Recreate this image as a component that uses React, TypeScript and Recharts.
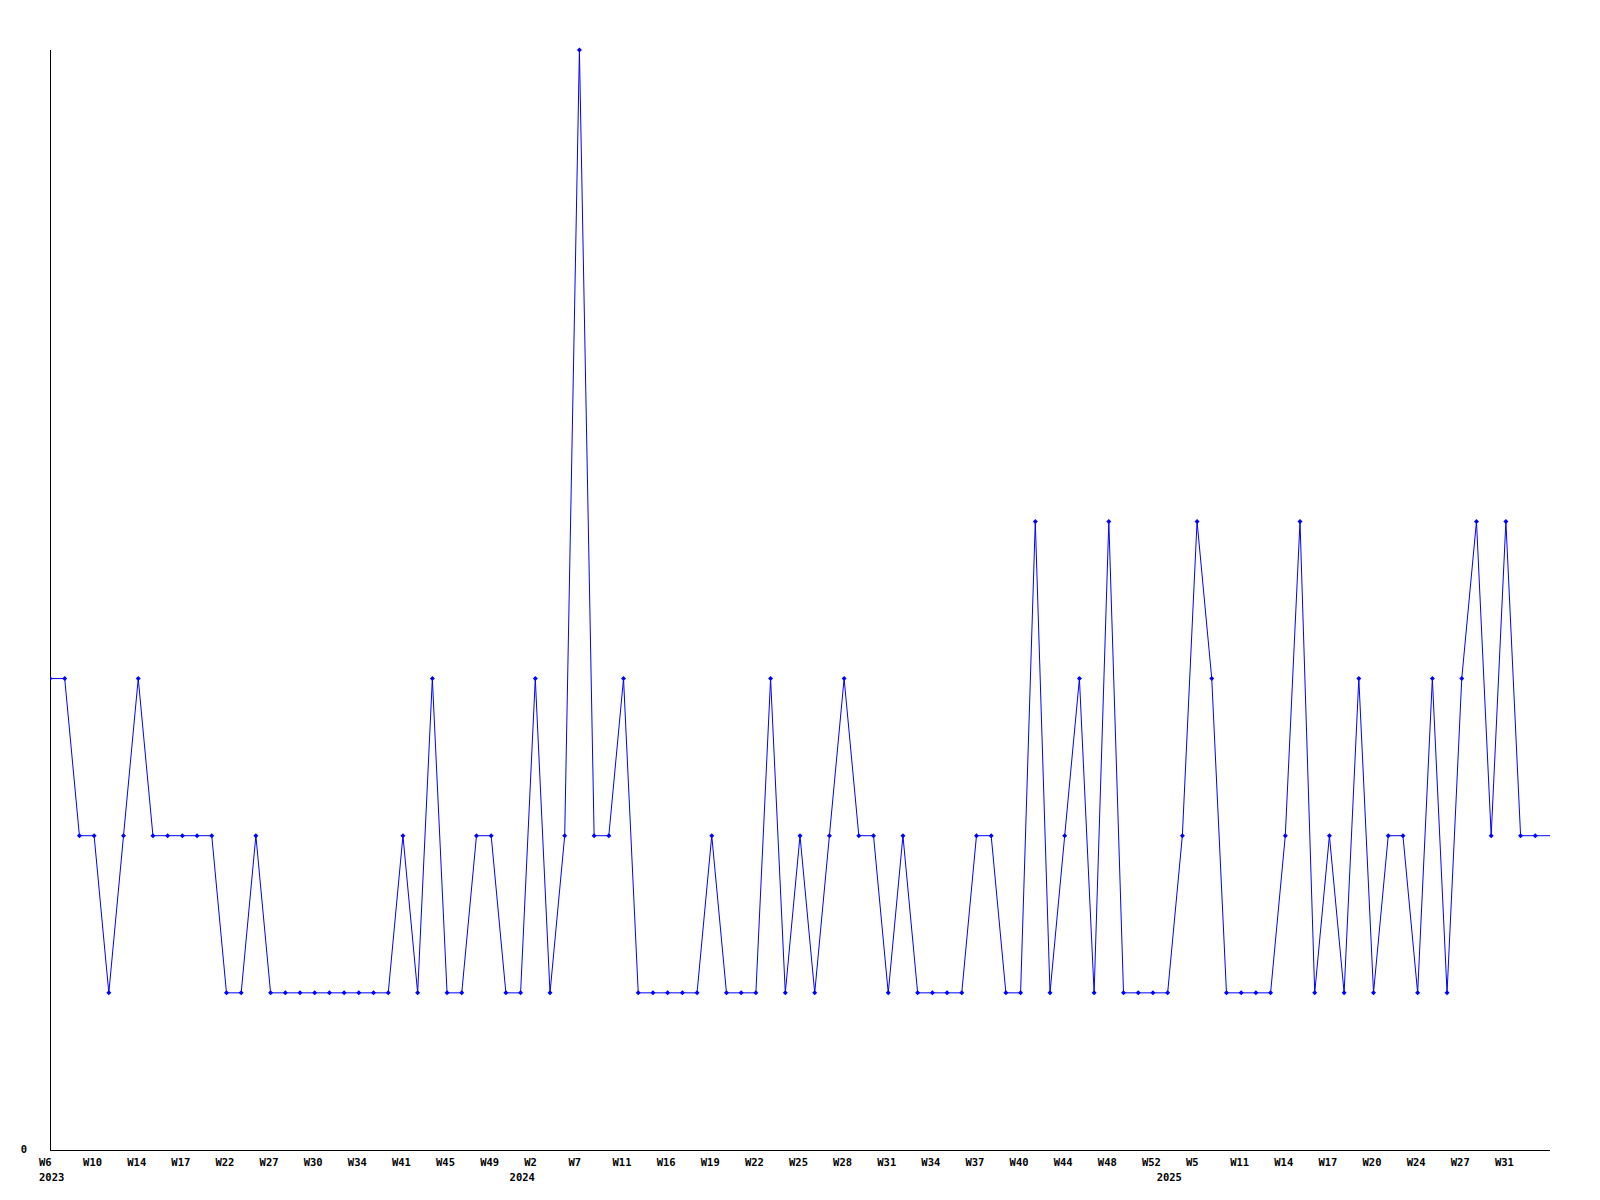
import React from 'react';
import { LineChart, Line, XAxis, YAxis } from 'recharts';

// one value per data row (weekly), left to right
const values: number[] = [
  3, 3, 2, 2, 1, 2, 3, 2, 2, 2,
  2, 2, 1, 1, 2, 1, 1, 1, 1, 1,
  1, 1, 1, 1, 2, 1, 3, 1, 1, 2,
  2, 1, 1, 3, 1, 2, 7, 2, 2, 3,
  1, 1, 1, 1, 1, 2, 1, 1, 1, 3,
  1, 2, 1, 2, 3, 2, 2, 1, 2, 1,
  1, 1, 1, 2, 2, 1, 1, 4, 1, 2,
  3, 1, 4, 1, 1, 1, 1, 2, 4, 3,
  1, 1, 1, 1, 2, 4, 1, 2, 1, 3,
  1, 2, 2, 1, 3, 1, 3, 4, 2, 4,
  2, 2, 2,
];

// week tick labels, one for every third row
const weekTickLabels: string[] = [
  'W6', 'W10', 'W14', 'W17', 'W22', 'W27', 'W30', 'W34', 'W41', 'W45', 'W49',
  'W2', 'W7', 'W11', 'W16', 'W19', 'W22', 'W25', 'W28', 'W31', 'W34', 'W37', 'W40', 'W44', 'W48', 'W52',
  'W5', 'W11', 'W14', 'W17', 'W20', 'W24', 'W27', 'W31',
];
const weekTickStep = 3;

// year labels and the row where each year starts
const yearLabels: string[] = ['2023', '2024', '2025'];
const yearStartRows: number[] = [0, 32, 76];

const yTickValues: number[] = [0];
const yMax = 7;

const data = values.map((v, i) => ({ idx: i, value: v }));
const weekTickRows = weekTickLabels.map((_, i) => i * weekTickStep);
const allTicks = Array.from(new Set([...weekTickRows, ...yearStartRows])).sort((a, b) => a - b);

const PLOT_BOTTOM = 1150;
const FONT = '"DejaVu Sans Mono", monospace';
const FONT_SIZE = 10.5;
const BLUE = '#0000ff';

const XTick = (props: any) => {
  const { x, payload } = props;
  const row = payload.value as number;
  const wi = weekTickRows.indexOf(row);
  const yi = yearStartRows.indexOf(row);
  return (
    <g>
      {wi >= 0 && (
        <text x={x - 11} y={PLOT_BOTTOM + 16} textAnchor="start" fontFamily={FONT} fontWeight="bold" fontSize={FONT_SIZE} fill="#000">
          {weekTickLabels[wi]}
        </text>
      )}
      {yi >= 0 && (
        <text x={x - 11} y={PLOT_BOTTOM + 31} textAnchor="start" fontFamily={FONT} fontWeight="bold" fontSize={FONT_SIZE} fill="#000">
          {yearLabels[yi]}
        </text>
      )}
    </g>
  );
};

const YTick = (props: any) => {
  const { x, y, payload } = props;
  return (
    <text x={x - 15} y={y + 3} textAnchor="end" fontFamily={FONT} fontWeight="bold" fontSize={FONT_SIZE} fill="#000">
      {String(payload.value)}
    </text>
  );
};

const Dot = (props: any) => {
  const { cx, cy, index } = props;
  if (index === values.length - 1 || cx == null || cy == null) return <g key={`d${index}`} />;
  const r = 2.5;
  return (
    <path
      key={`d${index}`}
      d={`M${cx - r},${cy} L${cx},${cy - r} L${cx + r},${cy} L${cx},${cy + r} Z`}
      fill={BLUE}
      stroke="none"
    />
  );
};

export default function App() {
  return (
    <div style={{ position: 'absolute', left: 0, top: 0, width: 1600, height: 1200, background: '#fff' }}>
      <LineChart width={1600} height={1200} data={data} margin={{ top: 50, right: 50, bottom: 20, left: 0 }}>
        <XAxis
          dataKey="idx"
          type="number"
          domain={[0, values.length - 1]}
          ticks={allTicks}
          interval={0}
          tick={<XTick />}
          tickLine={false}
          axisLine={{ stroke: '#000', strokeWidth: 1, shapeRendering: 'crispEdges' }}
          height={30}
          allowDataOverflow
        />
        <YAxis
          type="number"
          domain={[0, yMax]}
          ticks={yTickValues}
          tick={<YTick />}
          tickLine={false}
          axisLine={{ stroke: '#000', strokeWidth: 1, shapeRendering: 'crispEdges' }}
          width={50}
        />
        <Line
          type="linear"
          dataKey="value"
          stroke={BLUE}
          strokeWidth={1}
          dot={<Dot />}
          activeDot={false}
          isAnimationActive={false}
        />
      </LineChart>
    </div>
  );
}
